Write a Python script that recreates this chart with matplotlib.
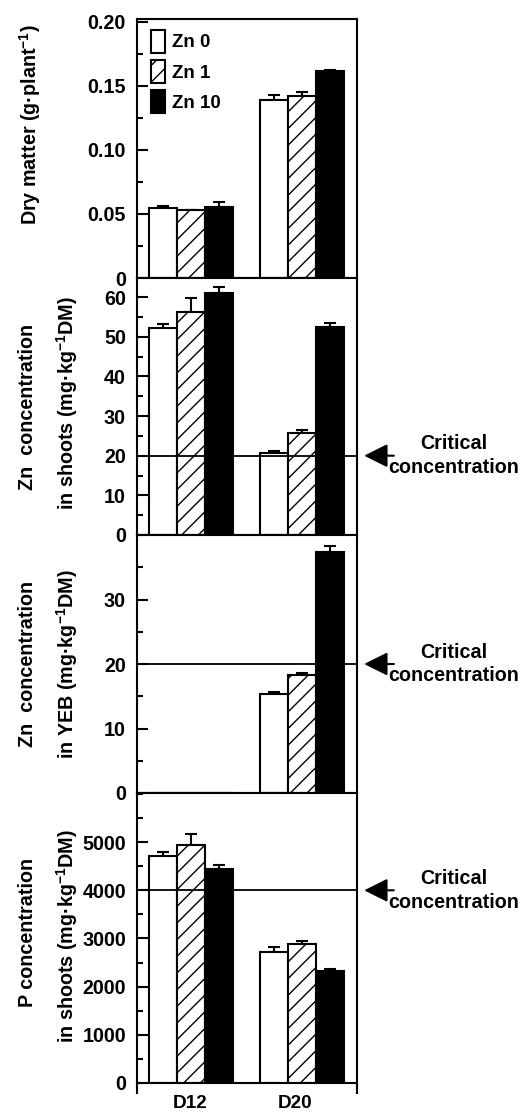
import numpy as np
import matplotlib
matplotlib.use("Agg")
import matplotlib.pyplot as plt
from matplotlib.patches import Patch

plt.rcParams['font.family'] = ['Liberation Sans', 'DejaVu Sans']
plt.rcParams['font.weight'] = 'bold'
plt.rcParams['mathtext.fontset'] = 'custom'
plt.rcParams['mathtext.rm'] = 'Liberation Sans:bold'
plt.rcParams['mathtext.bf'] = 'Liberation Sans:bold'
plt.rcParams['mathtext.default'] = 'bf'
plt.rcParams['hatch.linewidth'] = 1.0

days = ['D12', 'D20']
treatments = ['Zn 0', 'Zn 1', 'Zn 10']

# rows = treatments (Zn 0, Zn 1, Zn 10), columns = days (D12, D20)
dry_matter = [[0.0545, 0.139], [0.053, 0.1425], [0.0555, 0.1615]]
dry_matter_err = [[0.0015, 0.004], [0.0, 0.003], [0.004, 0.001]]

zn_shoots = [[52.1, 20.8], [56.2, 25.6], [61.0, 52.5]]
zn_shoots_err = [[1.2, 0.4], [3.5, 1.0], [1.5, 1.0]]

zn_yeb = [[0.0, 15.4], [0.0, 18.3], [0.0, 37.4]]
zn_yeb_err = [[0.0, 0.3], [0.0, 0.3], [0.0, 0.9]]

p_shoots = [[4710, 2720], [4940, 2880], [4440, 2320]]
p_shoots_err = [[80, 100], [225, 70], [80, 40]]

critical = [None, 20, 20, 4000]

fs = 14.2
W, H = 528, 1112
fig = plt.figure(figsize=(W / 100, H / 100), dpi=100)

left = 137 / W
width = (357 - 137) / W
edges = [19, 278, 535, 793, 1083]   # pixel rows of panel borders

panels = [
    (dry_matter, dry_matter_err, (0, 0.2023), [0, 0.05, 0.10, 0.15, 0.20],
     ['0', '0.05', '0.10', '0.15', '0.20'], 0.025),
    (zn_shoots, zn_shoots_err, (0, 64.8), [0, 10, 20, 30, 40, 50, 60], None, 5),
    (zn_yeb, zn_yeb_err, (0, 40), [0, 10, 20, 30], None, 5),
    (p_shoots, p_shoots_err, (0, 6020), [0, 1000, 2000, 3000, 4000, 5000], None, 500),
]

centers = np.array([0.49, 1.50])
bw = 0.2545
styles = [dict(facecolor='white', hatch=None),
          dict(facecolor='white', hatch='//'),
          dict(facecolor='black', hatch=None)]

axes = []
for i, (vals, errs, ylim, ticks, tlabels, minor) in enumerate(panels):
    top, bot = edges[i], edges[i + 1]
    ax = fig.add_axes([left, 1 - bot / H, width, (bot - top) / H])
    axes.append(ax)
    for j in range(3):
        x = centers + (j - 1) * bw
        v = np.array(vals[j], dtype=float)
        e = np.array(errs[j], dtype=float)
        ax.bar(x, v, width=bw, edgecolor='black', linewidth=1.5, zorder=2, **styles[j])
        m = v > 0
        ax.errorbar(x[m], v[m], yerr=[np.zeros(m.sum()), e[m]], fmt='none',
                    ecolor='black', elinewidth=1.5, capsize=4, capthick=1.5, zorder=1)
    if critical[i] is not None:
        ax.axhline(critical[i], color='black', lw=1.3, zorder=3)
        ax.annotate('', xy=(1.02, critical[i]), xytext=(1.18, critical[i]),
                    xycoords=('axes fraction', 'data'), textcoords=('axes fraction', 'data'),
                    arrowprops=dict(arrowstyle='-|>,head_length=0.8,head_width=0.4',
                                    mutation_scale=18, lw=1.5, color='black'),
                    annotation_clip=False)
        ax.text(1.44, critical[i], 'Critical\nconcentration', transform=ax.get_yaxis_transform(),
                ha='center', va='center', fontsize=fs, fontweight='bold', linespacing=1.3)
    ax.set_xlim(0, 2)
    ax.set_ylim(*ylim)
    ax.set_yticks(ticks)
    if tlabels is not None:
        ax.set_yticklabels(tlabels)
    ax.set_yticks(np.arange(ylim[0], ylim[1] + 1e-9, minor), minor=True)
    ax.tick_params(axis='y', which='major', direction='in', length=8, width=1.5,
                   labelsize=fs, pad=8)
    ax.tick_params(axis='y', which='minor', direction='in', length=4, width=1.5)
    for s in ax.spines.values():
        s.set_linewidth(1.5)
    ax.set_xticks([])

# bottom axis: edge ticks and day labels
ax = axes[-1]
ax.set_xticks([0, 2])
ax.set_xticklabels(['', ''])
ax.set_xticks([0.48, 1.435], days, minor=True)
ax.tick_params(axis='x', which='major', direction='out', length=8, width=1.5)
ax.tick_params(axis='x', which='minor', length=0, labelsize=fs - 0.5, pad=9)

# legend
handles = [Patch(facecolor='white', edgecolor='black', lw=1.5),
           Patch(facecolor='white', edgecolor='black', hatch='//', lw=1.5),
           Patch(facecolor='black', edgecolor='black', lw=1.5)]
axes[0].legend(handles, treatments, loc='upper left', bbox_to_anchor=(0.02, 0.995),
               frameon=False, fontsize=fs - 0.7, handlelength=0.75, handleheight=1.5,
               handletextpad=0.4, labelspacing=0.4, borderaxespad=0.1)

# y labels
def ylab(x, y, s):
    fig.text(x / W, 1 - y / H, s, rotation=90, ha='center', va='center',
             fontsize=fs, fontweight='bold')

ylab(30, 125, 'Dry matter (g·plant$^{-1}$)')
ylab(28, 407, 'Zn  concentration')
ylab(67, 403, 'in shoots (mg·kg$^{-1}$DM)')
ylab(28, 664, 'Zn  concentration')
ylab(67, 664, 'in YEB (mg·kg$^{-1}$DM)')
ylab(28, 932, 'P concentration')
ylab(67, 936, 'in shoots (mg·kg$^{-1}$DM)')

fig.savefig('out.png', dpi=100)
